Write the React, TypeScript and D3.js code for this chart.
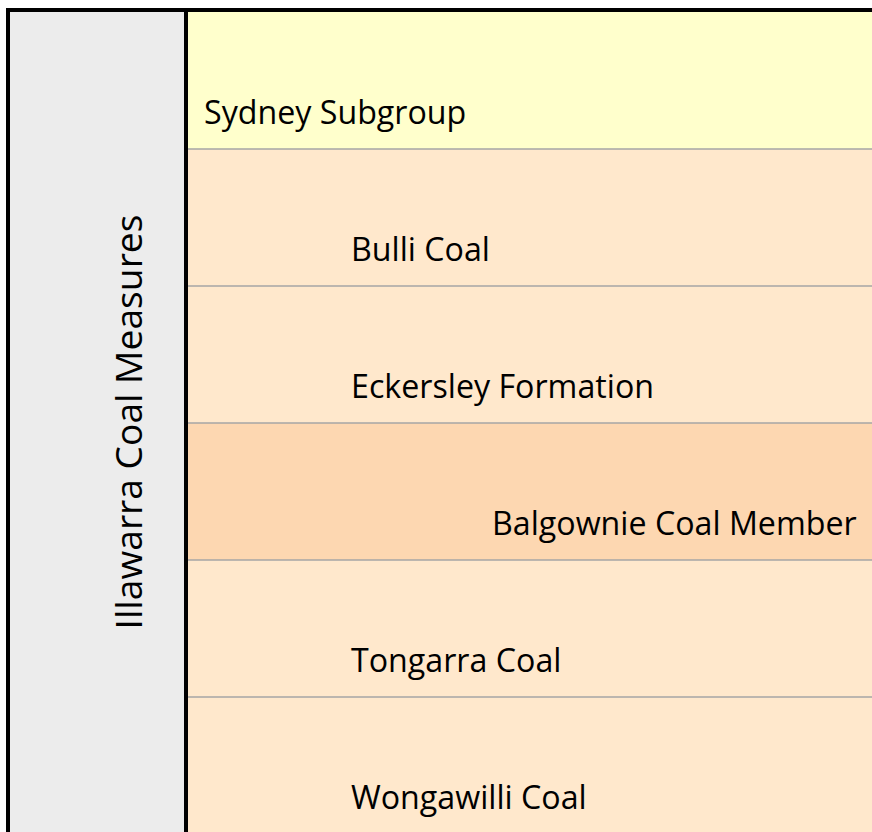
import React from "react";
import * as d3 from "d3";

const layers = [
  "Sydney Subgroup",
  "Bulli Coal",
  "Eckersley Formation",
  "Balgownie Coal Member",
  "Tongarra Coal",
  "Wongawilli Coal",
];
const levels = [0, 1, 1, 2, 1, 1];
const fills = ["#ffffcc", "#ffe8cc", "#ffe8cc", "#fdd7b1", "#ffe8cc", "#ffe8cc"];
const groupLabel = "Illawarra Coal Measures";

const W = 872;
const H = 832;

export default function App() {
  const top = 12;
  const rowH = 137;
  const y = d3.scaleBand<string>().domain(layers).range([top, top + rowH * layers.length]);
  const x = d3.scaleOrdinal<number, number>().domain([0, 1, 2]).range([204, 351, 492]);
  const fontFamily = "'Open Sans', 'Noto Sans', sans-serif";
  const fs = 32.2;
  return (
    <svg width={W} height={H} style={{ position: "absolute", left: 0, top: 0 }}>
      <rect x={0} y={0} width={W} height={H} fill="#ffffff" />
      {/* left group column */}
      <rect x={8} y={10} width={178} height={H - 10} fill="#ececec" />
      {layers.map((name, i) => (
        <g key={name}>
          <rect x={186} y={y(name)!} width={W - 186} height={y.bandwidth()} fill={fills[i]} />
          {i > 0 && (
            <line x1={186} x2={W} y1={y(name)!} y2={y(name)!} stroke="#a6a6a6" strokeWidth={1.5} />
          )}
          <text
            x={x(levels[i])}
            y={y(name)! + y.bandwidth() - 25.5}
            fontFamily={fontFamily}
            fontSize={fs}
            fill="#000"
          >
            {name}
          </text>
        </g>
      ))}
      <text
        transform={`translate(142, ${(top + H) / 2}) rotate(-90)`}
        textAnchor="middle"
        fontFamily={fontFamily}
        fontSize={37.2}
        fill="#000"
      >
        {groupLabel}
      </text>
      {/* borders */}
      <line x1={8} x2={8} y1={8} y2={H} stroke="#000" strokeWidth={4} />
      <line x1={6} x2={W} y1={10} y2={10} stroke="#000" strokeWidth={4} />
      <line x1={186} x2={186} y1={10} y2={H} stroke="#000" strokeWidth={4} />
    </svg>
  );
}
